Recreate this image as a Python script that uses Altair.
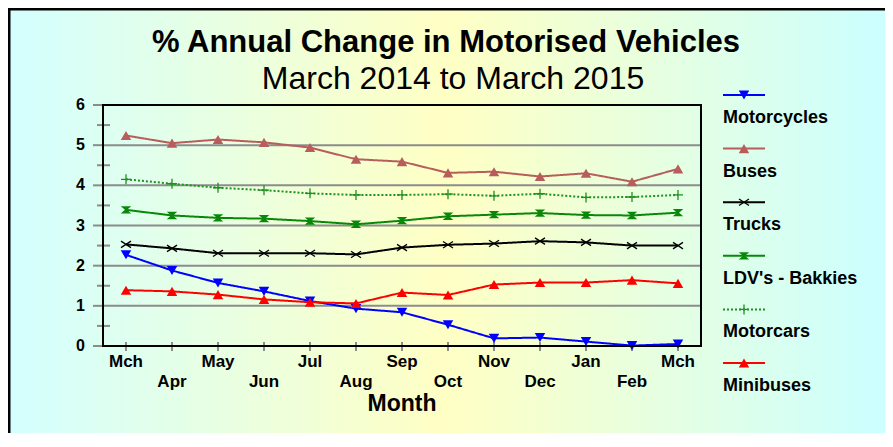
import altair as alt
import pandas as pd

months = ["Mch", "Apr", "May", "Jun", "Jul", "Aug", "Sep", "Oct", "Nov", "Dec", "Jan", "Feb", "Mch"]
series_names = ["Motorcycles", "Buses", "Trucks", "LDV's - Bakkies", "Motorcars", "Minibuses"]

motorcycles = [2.27, 1.88, 1.57, 1.36, 1.12, 0.93, 0.84, 0.53, 0.19, 0.21, 0.11, 0.01, 0.05]
buses = [5.24, 5.05, 5.14, 5.07, 4.94, 4.65, 4.59, 4.31, 4.34, 4.22, 4.30, 4.09, 4.41]
trucks = [2.53, 2.43, 2.31, 2.31, 2.31, 2.28, 2.45, 2.52, 2.55, 2.61, 2.58, 2.50, 2.50]
ldv = [3.39, 3.25, 3.19, 3.17, 3.11, 3.03, 3.12, 3.23, 3.27, 3.31, 3.26, 3.25, 3.32]
motorcars = [4.15, 4.04, 3.94, 3.88, 3.80, 3.76, 3.76, 3.78, 3.74, 3.79, 3.70, 3.71, 3.76]
minibuses = [1.39, 1.36, 1.28, 1.16, 1.09, 1.06, 1.33, 1.27, 1.53, 1.58, 1.58, 1.64, 1.56]

y_ticks = [0, 1, 2, 3, 4, 5, 6]
y_grid = [1, 2, 3, 4, 5]
y_minor = [0.5, 1.5, 2.5, 3.5, 4.5, 5.5]

colors = ["#0000FF", "#B85C5C", "#000000", "#088808", "#1F8F1F", "#FF0000"]
shapes = [
    "triangle-down",
    "triangle-up",
    "M-1,-0.65L1,0.65M-1,0.65L1,-0.65",
    "M-1,-0.7L1,-0.7L0.2,0L1,0.7L-1,0.7L-0.2,0Z",
    "M-1,0L1,0M0,-1L0,1",
    "triangle-up",
]
dashes = [[1, 0], [1, 0], [1, 0], [1, 0], [2, 2], [1, 0]]
widths = [2, 2, 2, 2, 1, 2]
stroked = ["Trucks", "Motorcars"]

FONT = "Liberation Sans"
W, H = 598, 241
PAD = {"left": 95, "top": 97, "right": 184, "bottom": 87}
GRAY = "#8C8C8C"

rows = []
for name, vals in zip(series_names, [motorcycles, buses, trucks, ldv, motorcars, minibuses]):
    for i, (m, v) in enumerate(zip(months, vals)):
        rows.append({"series": name, "idx": i, "month": m, "value": v})
df = pd.DataFrame(rows)

month_df = pd.DataFrame({"idx": list(range(len(months))), "label": months,
                         "row": [i % 2 for i in range(len(months))]})
tick_df = pd.DataFrame({"v": y_ticks})
grid_df = pd.DataFrame({"v": y_grid})
minor_df = pd.DataFrame({"v": y_minor})
legend_df = pd.DataFrame({"series": series_names})
one = pd.DataFrame({"a": [0]})

x_scale = alt.Scale(domain=[-0.5, len(months) - 0.5], nice=False, zero=False)
y_scale = alt.Scale(domain=[0, 6], nice=False)
color_scale = alt.Scale(domain=series_names, range=colors)
shape_scale = alt.Scale(domain=series_names, range=shapes)
dash_scale = alt.Scale(domain=series_names, range=dashes)
width_scale = alt.Scale(domain=series_names, range=widths)

color_enc = alt.Color("series:N", scale=color_scale, legend=None)
shape_enc = alt.Shape("series:N", scale=shape_scale, legend=None)
dash_enc = alt.StrokeDash("series:N", scale=dash_scale, legend=None)
width_enc = alt.StrokeWidth("series:N", scale=width_scale, legend=None)
x_enc = alt.X("idx:Q", scale=x_scale, axis=None)
yv_enc = alt.Y("v:Q", scale=y_scale, axis=None)
yval_enc = alt.Y("value:Q", scale=y_scale, axis=None)

# background gradient and outer border
bg = alt.Chart(one).mark_rect(
    color=alt.LinearGradient(
        gradient="linear", x1=0, x2=1, y1=0, y2=0,
        stops=[alt.GradientStop(color="#D3FFFF", offset=0),
               alt.GradientStop(color="#FFFFC4", offset=0.5),
               alt.GradientStop(color="#CCFFFF", offset=1)]),
).encode(x=alt.value(-PAD["left"]), x2=alt.value(W + PAD["right"]),
         y=alt.value(-PAD["top"]), y2=alt.value(H + PAD["bottom"]))

border = alt.Chart(one).mark_rect(filled=False, stroke="black", strokeWidth=3).encode(
    x=alt.value(-PAD["left"] + 1), x2=alt.value(W + PAD["right"] + 50),
    y=alt.value(-PAD["top"] + 1), y2=alt.value(H + PAD["bottom"] + 50))

grid = alt.Chart(grid_df).mark_rule(color=GRAY, strokeWidth=2).encode(y=yv_enc)

major = alt.Chart(tick_df).mark_rule(color=GRAY, strokeWidth=2).encode(
    y=yv_enc, x=alt.value(-10), x2=alt.value(0))

minor = alt.Chart(minor_df).mark_rule(color=GRAY, strokeWidth=2).encode(
    y=yv_enc, x=alt.value(-6), x2=alt.value(7))

ylabels = alt.Chart(tick_df).mark_text(
    font=FONT, fontSize=16, fontWeight="bold", color="black", align="right", baseline="middle"
).encode(y=yv_enc, x=alt.value(-18), text="v:Q")

xticks = alt.Chart(month_df).mark_rule(color=GRAY, strokeWidth=2).encode(
    x=x_enc, y=alt.value(H - 4), y2=alt.value(H + 5))

lines = alt.Chart(df).mark_line().encode(
    x=x_enc, y=yval_enc, color=color_enc, strokeDash=dash_enc, strokeWidth=width_enc,
    order="idx:Q")

pts_filled = alt.Chart(df).transform_filter(
    ~alt.FieldOneOfPredicate(field="series", oneOf=stroked)
).mark_point(filled=True, size=110, opacity=1).encode(
    x=x_enc, y=yval_enc, color=color_enc, shape=shape_enc)

pts_stroked = alt.Chart(df).transform_filter(
    alt.FieldOneOfPredicate(field="series", oneOf=stroked)
).mark_point(filled=False, size=100, strokeWidth=1.3, opacity=1).encode(
    x=x_enc, y=yval_enc, color=color_enc, shape=shape_enc)

frame = alt.Chart(one).mark_rect(filled=False, stroke="black", strokeWidth=2).encode(
    x=alt.value(0), x2=alt.value(W), y=alt.value(0), y2=alt.value(H))

xlab1 = alt.Chart(month_df).transform_filter("datum.row == 0").mark_text(
    font=FONT, fontSize=17, fontWeight="bold", color="black", baseline="middle"
).encode(x=x_enc, y=alt.value(H + 16), text="label:N")

xlab2 = alt.Chart(month_df).transform_filter("datum.row == 1").mark_text(
    font=FONT, fontSize=17, fontWeight="bold", color="black", baseline="middle"
).encode(x=x_enc, y=alt.value(H + 36), text="label:N")

xtitle = alt.Chart(one).mark_text(
    font=FONT, fontSize=23, fontWeight="bold", color="black", baseline="middle"
).encode(x=alt.value(W / 2), y=alt.value(H + 58), text=alt.value("Month"))

title1 = alt.Chart(one).mark_text(
    font=FONT, fontSize=31, fontWeight="bold", color="black", baseline="middle"
).encode(x=alt.value(343), y=alt.value(-62), text=alt.value("% Annual Change in Motorised Vehicles"))

title2 = alt.Chart(one).mark_text(
    font=FONT, fontSize=32, color="black", baseline="middle"
).encode(x=alt.value(350), y=alt.value(-26), text=alt.value("March 2014 to March 2015"))

# legend: one row per series, symbol line above bold label
LEG_X0, LEG_X1, LEG_Y0, LEG_STEP = 620, 662, -10, 53.6
legend_layers = []
for k, name in enumerate(series_names):
    row = alt.Chart(legend_df).transform_filter(alt.datum.series == name)
    yk = alt.value(LEG_Y0 + k * LEG_STEP)
    legend_layers.append(row.mark_rule().encode(
        y=yk, x=alt.value(LEG_X0), x2=alt.value(LEG_X1),
        color=color_enc, strokeDash=dash_enc, strokeWidth=width_enc))
    legend_layers.append(row.mark_point(
        filled=name not in stroked, size=110 if name not in stroked else 100,
        strokeWidth=1.3, opacity=1).encode(
        y=yk, x=alt.value((LEG_X0 + LEG_X1) / 2), color=color_enc, shape=shape_enc))
    legend_layers.append(row.mark_text(
        font=FONT, fontSize=18, fontWeight="bold", color="black", align="left",
        baseline="middle").encode(
        y=alt.value(LEG_Y0 + k * LEG_STEP + 23), x=alt.value(LEG_X0), text="series:N"))

chart = alt.layer(bg, border, grid, major, minor, ylabels, xticks, lines, pts_filled,
                  pts_stroked, frame, xlab1, xlab2, xtitle, title1, title2,
                  *legend_layers).properties(
    width=W, height=H, autosize=alt.AutoSizeParams(type="none"), padding=PAD
).configure_view(stroke=None).configure(font=FONT)

chart.save("out.html", embed_options={"renderer": "svg", "actions": False})
